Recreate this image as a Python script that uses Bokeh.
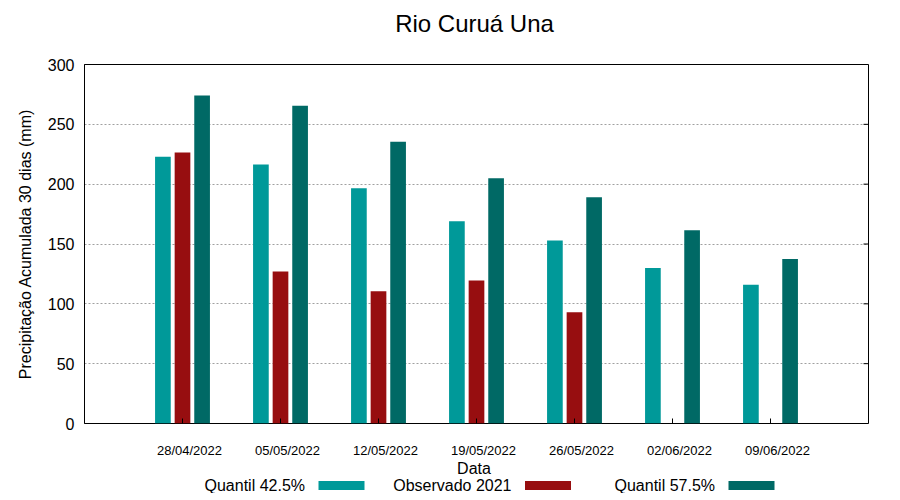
import math
from bokeh.plotting import figure
from bokeh.models import Range1d, FixedTicker, ColumnDataSource
from bokeh.layouts import column
from bokeh.core.properties import value
from bokeh.embed import file_html
from bokeh.resources import INLINE

# ---- data ----
dates = ["28/04/2022", "05/05/2022", "12/05/2022", "19/05/2022",
         "26/05/2022", "02/06/2022", "09/06/2022"]
quantil_425 = [223, 216.5, 196.5, 169, 153, 130, 116]
observado_2021 = [226.5, 127, 110.5, 119.5, 93, None, None]
quantil_575 = [274, 265.5, 235.5, 205, 189, 161.5, 137.5]
series_names = ["Quantil 42.5%", "Observado 2021", "Quantil 57.5%"]
y_ticks = [0, 50, 100, 150, 200, 250, 300]
title_text = "Rio Curuá Una"
x_title = "Data"
y_title = "Precipitação Acumulada 30 dias (mm)"

colors = ["#009999", "#970e10", "#006965"]
offsets = [-0.2, 0.0, 0.2]
bar_w = 0.16
FONT = "Liberation Sans"

# layout constants (page pixels)
FL, FW, FR = 85, 784, 23           # frame left, frame width, right border
FT_H, FH, BOT_H = 50, 359, 60      # title strip, frame, bottom strip heights
MAIN_TOP, MAIN_BOT = 14, 10        # main figure borders above/below frame
xr = Range1d(0, len(dates) + 1)


def px2x(px):
    """page pixel -> data x of the shared x range"""
    return (px - FL) / FW * (xr.end - xr.start) + xr.start


def strip(h):
    s = figure(output_backend="svg", toolbar_location=None,
               frame_width=FW, frame_height=h,
               min_border_left=FL - 1, min_border_right=FR,
               min_border_top=0, min_border_bottom=0,
               x_range=xr, y_range=Range1d(h, 0),
               x_axis_type=None, y_axis_type=None)
    s.outline_line_color = None
    s.grid.visible = False
    s.background_fill_color = "white"
    s.border_fill_color = "white"
    return s


# ---- title strip ----
top = strip(FT_H)
top.text(x=[px2x(475)], y=[23], text=[title_text], text_align="center",
         text_baseline="middle", text_font=value(FONT),
         text_font_size="24px", text_color="black")

# ---- main plot ----
p = figure(output_backend="svg", toolbar_location=None,
           frame_width=FW, frame_height=FH,
           min_border_left=FL - 1, min_border_right=FR,
           min_border_top=MAIN_TOP, min_border_bottom=MAIN_BOT,
           x_range=xr, y_range=Range1d(0, 300))
p.background_fill_color = "white"
p.border_fill_color = "white"
p.outline_line_color = "black"
p.outline_line_width = 1

for k, vals in enumerate([quantil_425, observado_2021, quantil_575]):
    xs = [i + 1 + offsets[k] for i, v in enumerate(vals) if v is not None]
    tops = [v for v in vals if v is not None]
    src = ColumnDataSource(dict(x=xs, top=tops))
    p.vbar(x="x", top="top", bottom=0, width=bar_w, source=src,
           fill_color=colors[k], line_color=None)

cat_x = [i + 1 for i in range(len(dates))]
p.xaxis.visible = False

# y axis
ya = p.yaxis[0]
ya.ticker = FixedTicker(ticks=y_ticks)
ya.major_tick_in = 0
ya.major_tick_out = 0
ya.minor_tick_line_color = None
ya.major_label_standoff = 10
ya.major_label_text_font = FONT
ya.major_label_text_font_size = "16px"
ya.major_label_text_color = "black"
ya.axis_label = y_title
ya.axis_label_text_font = FONT
ya.axis_label_text_font_size = "16px"
ya.axis_label_text_font_style = "normal"
ya.axis_label_text_color = "black"
ya.axis_label_standoff = 11
ya.axis_line_color = "black"

# inward ticks: bottom at categories, right mirror of y ticks
p.ray(x=cat_x, y=[0] * len(cat_x), length=5, length_units="screen",
      angle=math.pi / 2, line_color="black", line_width=1)
p.ray(x=[xr.end] * len(y_ticks), y=y_ticks, length=5,
      length_units="screen", angle=math.pi, line_color="black", line_width=1)

p.xgrid.grid_line_color = None
p.ygrid.ticker = FixedTicker(ticks=y_ticks[1:-1])
p.ygrid.grid_line_color = "#a0a0a0"
p.ygrid.grid_line_dash = "2 2"
p.ygrid.grid_line_width = 1

# ---- bottom strip: tick labels, x title, legend ----
bot = strip(BOT_H)
bot.text(x=cat_x, y=[17.2] * len(cat_x), text=dates, x_offset=7,
         text_align="center", text_baseline="middle", text_font=value(FONT),
         text_font_size="13px", text_color="black")
bot.text(x=[px2x(474.5)], y=[35], text=[x_title], text_align="center",
         text_baseline="middle", text_font=value(FONT),
         text_font_size="16px", text_color="black")

text_end = [305.5, 512, 715.5]
gap, sw, sh, ly = 13.5, 46, 9, 51.5
bot.text(x=[px2x(t) for t in text_end], y=[ly] * 3, text=series_names,
         text_align="right", text_baseline="middle", text_font=value(FONT),
         text_font_size="16px", text_color="black")
bot.rect(x=[px2x(t + gap + sw / 2) for t in text_end], y=[ly + 0.5] * 3,
         width=sw, height=sh, width_units="screen", height_units="screen",
         fill_color=colors, line_color=None)

layout = column(top, p, bot, spacing=0)
open("out.html", "w").write(file_html(layout, INLINE))
